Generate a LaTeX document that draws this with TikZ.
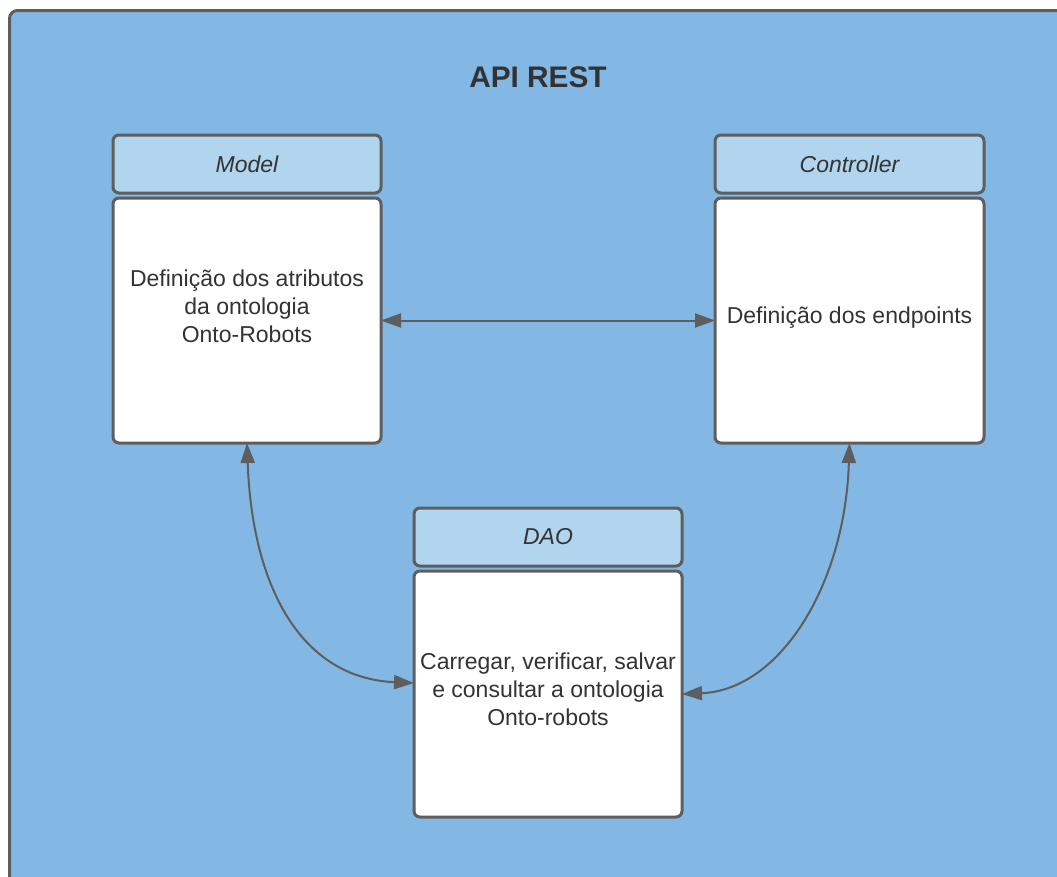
\documentclass[tikz,border=0pt]{standalone}
\usepackage{fontspec}
\setmainfont{Liberation Sans}
\usetikzlibrary{arrows.meta,calc}
\definecolor{panelblue}{HTML}{82B8E3}
\definecolor{headblue}{HTML}{B1D4EF}
\definecolor{edgegray}{HTML}{5E5E5E}
\definecolor{inkgray}{HTML}{333333}
\tikzset{
  headbox/.style={draw=edgegray, line width=3pt, fill=headblue, rounded corners=6pt,
    inner sep=0pt, outer sep=0pt, text=inkgray,
    font=\fontsize{23}{27}\selectfont\itshape},
  bodybox/.style={draw=edgegray, line width=3pt, fill=white, rounded corners=6pt,
    inner sep=0pt, outer sep=0pt, text=inkgray, align=center,
    font=\fontsize{23}{28}\selectfont},
  link/.style={draw=edgegray, line width=2pt,
    {Triangle[length=20pt,width=14pt]}-{Triangle[length=20pt,width=14pt]}}
}
\begin{document}
\begin{tikzpicture}[x=1pt,y=-1pt]
  \useasboundingbox (0,0) rectangle (1057,876);
  \clip (0,0) rectangle (1057,876);
  % outer panel, running past the right and lower edges
  \draw[draw=edgegray, line width=3pt, fill=panelblue, rounded corners=8pt]
    (9.5,10.5) rectangle (1080,900);
  \node[font=\fontsize{29.8}{33}\selectfont\bfseries, text=inkgray] (title) at (538,77) {API REST};

  % Model
  \node[headbox, minimum width=268pt, minimum height=58pt] (mhead) at (247,164) {Model};
  \node[bodybox, minimum width=268pt, minimum height=245pt] (mbody) at (247,320.5) {};
  \node[bodybox, draw=none, fill=none] (mtext) at (247,306)
    {Definição dos atributos\\da ontologia\\Onto-Robots};

  % Controller
  \node[headbox, minimum width=269pt, minimum height=58pt] (chead) at (849.5,164) {Controller};
  \node[bodybox, minimum width=269pt, minimum height=245pt] (cbody) at (849.5,320.5) {};
  \node[bodybox, draw=none, fill=none] (ctext) at (849.5,318) {Definição dos endpoints};

  % DAO
  \node[headbox, minimum width=268pt, minimum height=58pt] (dhead) at (548,537) {DAO};
  \node[bodybox, minimum width=268pt, minimum height=246pt] (dbody) at (548,694) {};
  \node[bodybox, draw=none, fill=none] (dtext) at (548,689)
    {Carregar, verificar, salvar\\e consultar a ontologia\\Onto-robots};

  % connectors
  \draw[link] (mbody.east) -- (cbody.west);
  \coordinate (dleft) at ($(dbody.west)+(0,-11)$);
  \draw[link] (mbody.south) .. controls (252,585) and (300,678) .. (dleft);
  \draw[link] (cbody.south) .. controls (845,585) and (780,690) .. (dbody.east);
\end{tikzpicture}
\end{document}
